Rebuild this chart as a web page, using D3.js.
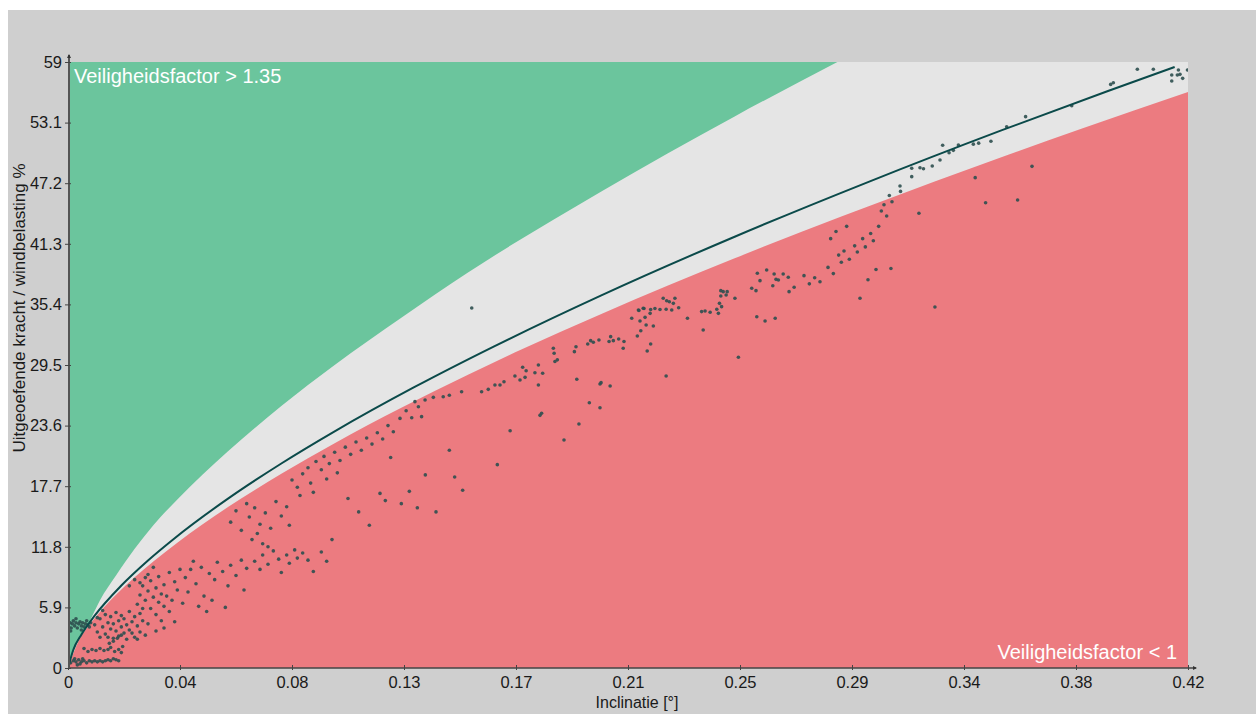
<!DOCTYPE html>
<html>
<head>
<meta charset="utf-8">
<script src="https://cdn.jsdelivr.net/npm/d3@7"></script>
<style>
  body { margin: 0; background: #fff; }
  text { font-family: "Liberation Sans", Arial, sans-serif; }
</style>
</head>
<body>
<svg id="chart" width="1256" height="714"></svg>
<script>
// Axis ticks
const xTicks = [0, 0.042, 0.084, 0.126, 0.168, 0.21, 0.252, 0.294, 0.336, 0.378, 0.42];
const xTickLabels = ["0", "0.04", "0.08", "0.13", "0.17", "0.21", "0.25", "0.29", "0.34", "0.38", "0.42"];
const yTicks = [0, 5.9, 11.8, 17.7, 23.6, 29.5, 35.4, 41.3, 47.2, 53.1, 59];

// Upper boundary (Veiligheidsfactor 1.35)
const greenX = [0, 0.004, 0.008, 0.012, 0.018, 0.025, 0.032, 0.041, 0.06, 0.08, 0.1, 0.125, 0.15, 0.2, 0.25, 0.29, 0.32];
const greenY = [0, 2.8, 4.5, 6.6, 9.0, 11.6, 13.9, 16.4, 21.1, 25.5, 29.5, 34.1, 38.5, 46.4, 53.7, 59.2, 63.2];

// Lower boundary (Veiligheidsfactor 1)
const redX = [0, 0.004, 0.008, 0.012, 0.018, 0.025, 0.032, 0.041, 0.06, 0.08, 0.1, 0.125, 0.15, 0.17, 0.2, 0.25, 0.29, 0.3, 0.35, 0.38, 0.42];
const redY = [0, 2.66, 4.19, 5.46, 7.13, 8.84, 10.37, 12.2, 15.67, 18.91, 21.89, 25.34, 28.54, 31.0, 34.47, 39.89, 43.96, 44.94, 49.72, 52.5, 56.07];

// Fitted curve
const lineX = [0, 0.002, 0.005, 0.01, 0.02, 0.03, 0.04, 0.06, 0.08, 0.1, 0.13, 0.16, 0.2, 0.25, 0.3, 0.35, 0.39, 0.415];
const lineY = [0, 1.78, 3.24, 5.10, 8.03, 10.47, 12.64, 16.49, 19.91, 23.04, 27.36, 31.34, 36.28, 41.99, 47.31, 52.34, 56.18, 58.51];

// Measurements [inclinatie, kracht %]
const dots = [
  [.001,.5],[.002,.7],[.003,.6],[.004,.8],[.005,.6],[.006,.7],[.007,.5],[.008,.7],[.009,.6],[.010,.7],[.011,.6],[.012,.7],[.013,.6],[.014,.7],[.015,.8],[.016,.7],[.017,.9],[.018,.8],[.019,.7],[.0035,.3],[.0045,.4],[.0025,.9],[.0055,.9],
  [.006,1.9],[.0075,1.6],[.009,1.8],[.0105,1.7],[.012,1.9],[.0135,1.7],[.015,1.8],[.016,2.0],[.0175,1.6],[.019,1.8],[.020,1.5],[.0205,2.1],[.0155,2.4],[.017,2.6],[.0185,2.9],
  [.0003,4.0],[.0008,4.4],[.0012,3.9],[.0016,4.3],[.002,4.6],[.0025,4.1],[.003,4.4],[.0035,3.9],[.004,4.3],[.0045,4.5],[.005,4.1],[.0055,4.4],[.006,4.0],[.0065,4.3],[.007,4.6],[.0075,4.2],[.008,4.0],[.0085,4.4],[.001,3.6],[.003,4.8],[.005,3.7],
  [.010,4.2],[.011,3.5],[.012,4.8],[.012,3.0],[.013,4.0],[.014,5.2],[.014,3.3],[.015,4.4],[.016,3.8],[.016,5.0],[.017,2.9],[.017,4.3],[.018,3.6],[.018,5.4],[.019,4.6],[.019,3.1],[.020,4.0],[.020,5.1],[.021,3.4],[.021,4.8],[.022,2.8],[.022,4.2],[.023,5.5],[.023,3.7],[.024,4.5],[.025,3.0],[.025,5.0],[.026,4.1],[.027,3.5],[.027,5.3],[.028,4.6],[.029,3.2],[.030,4.3],[.015,3.0],[.013,5.6],[.011,4.9],[.024,3.4],[.026,2.8],[.028,5.8],[.020,3.2],
  [.026,6.2],[.027,7.1],[.028,8.0],[.029,6.6],[.030,7.5],[.031,5.8],[.031,8.5],[.032,6.9],[.033,7.8],[.033,5.2],[.034,6.4],[.034,8.9],[.035,7.2],[.035,4.6],[.036,6.0],[.036,8.1],[.037,7.0],[.038,5.5],[.038,9.3],[.039,6.6],[.040,8.4],[.041,7.6],[.042,9.6],[.043,6.3],[.044,8.8],[.045,7.4],[.030,9.1],[.032,9.8],[.029,8.8],[.040,4.5],[.036,3.9],[.033,3.6],[.023,8.0],[.025,8.6],[.027,8.3],
  [.046,9.6],[.048,8.2],[.050,9.8],[.051,7.0],[.053,9.2],[.055,8.6],[.056,10.3],[.058,9.4],[.060,8.0],[.061,10.0],[.063,9.0],[.065,10.5],[.066,7.6],[.067,9.7],[.049,6.0],[.052,5.5],[.047,10.4],[.054,6.6],[.059,5.9],
  [.070,10.4],[.072,9.6],[.073,11.0],[.075,10.1],[.077,11.4],[.079,10.6],[.080,9.3],[.082,11.0],[.083,10.2],[.085,11.5],[.086,10.7],[.088,11.2],[.090,10.5],[.092,9.4],[.095,11.3],[.097,10.4],
  [.061,14.2],[.063,15.3],[.065,13.4],[.067,16.0],[.068,14.7],[.070,15.6],[.071,13.1],[.072,14.0],[.074,15.1],[.076,13.6],[.078,16.2],[.080,14.8],[.082,15.7],[.083,13.9],[.069,12.5],[.073,12.1],[.075,11.8],
  [.084,18.3],[.086,17.6],[.088,18.9],[.090,19.5],[.091,18.0],[.093,20.1],[.095,19.3],[.096,20.6],[.098,19.9],[.100,21.0],[.102,20.2],[.104,21.5],[.106,20.8],[.108,22.0],[.110,21.2],[.112,22.4],[.114,21.8],[.116,22.9],[.118,22.3],[.120,23.6],[.122,23.0],[.087,16.8],[.092,17.1],[.097,18.4],[.101,19.0],[.099,12.5],[.105,16.5],[.109,15.2],[.113,13.9],[.117,17.0],[.119,16.3],[.121,20.5],
  [.1245,24.3],[.1268,25.05],[.1289,24.37],[.1301,25.93],[.1314,25.44],[.1326,24.47],[.1339,26.09],[.137,26.35],[.1407,26.41],[.143,26.55],[.1476,26.9],[.1551,26.9],[.1576,27.13],[.1601,27.55],[.162,27.55],[.1635,27.87],[.1658,23.1],[.1676,28.43],[.1695,28.04],[.1705,29.28],[.1714,28.3],[.1718,28.94],[.1751,28.75],[.1764,29.5],[.1764,27.55],[.1776,24.8],[.178,28.69],
  [.1514,35.05],[.138,15.2],[.143,21.2],[.145,18.6],[.148,17.3],[.161,19.8],[.177,24.6],[.186,22.2],[.125,16.0],[.128,17.2],[.131,15.6],[.134,18.8],
  [.182,31.13],[.1823,30.64],[.1826,29.84],[.1835,30.0],[.1899,30.8],[.1905,31.28],[.1908,28.11],[.1916,23.76],[.1949,31.55],[.1955,25.83],[.196,31.87],[.197,31.71],[.1991,31.93],[.1995,27.65],[.1999,27.78],[.1995,25.34],[.2033,27.46],[.2035,32.26],[.2029,31.79],[.2045,31.87],[.2065,32.03],[.2085,31.79],[.2082,31.13],
  [.2114,34.05],[.2135,32.32],[.2139,34.85],[.2145,33.78],[.2148,32.84],[.2164,34.14],[.2168,33.39],[.2172,30.86],[.2185,31.55],[.2183,34.53],[.2195,33.3],[.2157,35.02],[.2141,34.8],[.2160,35.0],[.2185,34.9],[.2201,35.0],[.2220,34.9],
  [.2232,36.0],[.2243,34.93],[.2245,35.76],[.2255,35.66],[.2264,34.85],[.227,35.5],[.2276,36.0],[.229,35.08],[.2243,28.43],[.2323,34.05],[.2376,34.7],[.2382,32.91],[.2389,34.76],[.2408,34.63],[.2433,34.93],[.2439,34.53],[.2443,35.5],[.2451,35.18],[.2448,36.22],[.2457,36.64],[.2468,36.31],[.2472,36.64],[.2448,36.74],[.2501,36.0],[.2514,30.25],
  [.2564,36.97],[.258,36.74],[.2583,34.2],[.2585,38.43],[.2595,37.71],[.2614,33.78],[.262,38.75],[.2643,37.22],[.2648,38.36],[.2655,37.84],[.2664,37.78],[.2652,34.05],[.2682,38.36],[.2701,38.04],[.2704,36.64],[.2723,37.07],
  [.276,38.2],[.278,37.4],[.280,38.0],[.282,37.6],[.285,39.0],[.287,38.4],[.289,40.2],[.290,39.5],[.291,40.6],[.293,39.8],[.295,41.1],[.296,40.5],[.298,41.8],[.299,41.0],[.301,42.3],[.302,41.6],[.304,43.0],[.305,44.5],[.306,45.1],[.307,44.0],[.308,46.0],[.309,45.4],[.286,41.8],[.292,43.0],[.288,42.5],[.297,36.0],[.300,37.8],[.303,38.8],[.3086,38.9],
  [.312,46.93],[.3122,46.4],[.3164,48.65],[.3164,47.84],[.3191,44.27],[.3195,48.7],[.3208,48.6],[.3241,48.87],[.327,49.46],[.328,50.89],[.3304,50.17],[.332,50.4],[.3339,50.92],[.3395,51.0],[.3402,47.74],[.3415,51.1],[.3441,45.3],[.3461,51.28],[.3251,35.15],
  [.352,52.7],[.3561,45.56],[.3591,53.68],[.3615,48.84],[.3764,54.74],[.391,56.82],[.392,56.98],[.401,58.29],[.407,58.29],[.4139,57.73],[.4139,57.15],[.4164,58.22],[.416,57.73],[.417,57.8],[.418,57.41],[.4198,58.22]
];

const W = 1256, H = 714;
const svg = d3.select("#chart");

const x = d3.scaleLinear().domain([0, 0.42]).range([68, 1188]);
const y = d3.scaleLinear().domain([0, 59]).range([668, 62]);

// Background panel
svg.append("rect").attr("x", 8).attr("y", 10).attr("width", W - 8).attr("height", H - 10).attr("fill", "#cfcfcf");

svg.append("clipPath").attr("id", "plotClip")
  .append("rect")
  .attr("x", x(0)).attr("y", y(59))
  .attr("width", x(0.42) - x(0)).attr("height", y(0) - y(59));

const plot = svg.append("g").attr("clip-path", "url(#plotClip)");

plot.append("rect")
  .attr("x", x(0)).attr("y", y(59))
  .attr("width", x(0.42) - x(0)).attr("height", y(0) - y(59))
  .attr("fill", "#e5e5e5");

// Green zone above the upper boundary
const greenData = greenX.map((v, i) => [v, greenY[i]]);
plot.append("path")
  .datum(greenData)
  .attr("fill", "#6bc59d")
  .attr("d", d3.area()
    .x(d => x(d[0]))
    .y0(y(70))
    .y1(d => y(d[1]))
    .curve(d3.curveMonotoneX));

// Red zone below the lower boundary
const redData = redX.map((v, i) => [v, redY[i]]);
plot.append("path")
  .datum(redData)
  .attr("fill", "#ec7b80")
  .attr("d", d3.area()
    .x(d => x(d[0]))
    .y0(y(0))
    .y1(d => y(d[1]))
    .curve(d3.curveMonotoneX));

// Dots
plot.append("g")
  .selectAll("circle")
  .data(dots)
  .join("circle")
  .attr("cx", d => x(d[0]))
  .attr("cy", d => y(d[1]))
  .attr("r", 1.8)
  .attr("fill", "#2e4f4f")
  .attr("opacity", 0.9);

// Fitted line
const lineData = lineX.map((v, i) => [v, lineY[i]]);
plot.append("path")
  .datum(lineData)
  .attr("fill", "none")
  .attr("stroke", "#0b4a4a")
  .attr("stroke-width", 2)
  .attr("d", d3.line()
    .x(d => x(d[0]))
    .y(d => y(d[1]))
    .curve(d3.curveMonotoneX));

// Zone labels
svg.append("text")
  .attr("x", 74).attr("y", 83)
  .attr("fill", "#fff").attr("font-size", 20)
  .text("Veiligheidsfactor > 1.35");
svg.append("text")
  .attr("x", 1177).attr("y", 659)
  .attr("text-anchor", "end")
  .attr("fill", "#fff").attr("font-size", 20)
  .text("Veiligheidsfactor < 1");

// Axes
const xAxis = d3.axisBottom(x)
  .tickValues(xTicks)
  .tickFormat((d, i) => xTickLabels[i])
  .tickSizeInner(-3).tickSizeOuter(0).tickPadding(8);
const gx = svg.append("g").attr("transform", `translate(0,${y(0)})`).call(xAxis);
gx.select(".domain").attr("stroke", "#444").attr("stroke-width", 1.5)
  .attr("d", `M${x(0)},0H${x(0.42) + 8}`);
gx.selectAll(".tick line").attr("stroke", "#444").attr("y1", 2);
gx.selectAll(".tick text").attr("font-size", 16.5).attr("fill", "#1a1a1a")
  .attr("font-family", "'Liberation Sans', Arial, sans-serif");

const yAxis = d3.axisLeft(y)
  .tickValues(yTicks)
  .tickFormat(d => d3.format("")(d))
  .tickSizeInner(3).tickSizeOuter(0).tickPadding(4);
const gy = svg.append("g").attr("transform", `translate(${x(0) + 1},0)`).call(yAxis);
gy.select(".domain").attr("stroke", "#555").attr("stroke-width", 2)
  .attr("d", `M0,${y(0)}V${y(59) - 7}`);
gy.selectAll(".tick line").attr("stroke", "#444").attr("x2", -4).attr("x1", 2);
gy.selectAll(".tick text").attr("font-size", 16.5).attr("fill", "#1a1a1a")
  .attr("font-family", "'Liberation Sans', Arial, sans-serif");

// Axis arrows
svg.append("path")
  .attr("d", `M${x(0) + 1},${y(59) - 8}l-2,4h4z`)
  .attr("fill", "#333");
svg.append("path")
  .attr("d", `M${x(0.42) + 9},${y(0)}l-4,-2v4z`)
  .attr("fill", "#333");

// Axis titles
svg.append("text")
  .attr("transform", `translate(25,308) rotate(-90)`)
  .attr("text-anchor", "middle")
  .attr("font-size", 17).attr("fill", "#1a1a1a")
  .text("Uitgeoefende kracht / windbelasting %");
svg.append("text")
  .attr("x", 637).attr("y", 708)
  .attr("text-anchor", "middle")
  .attr("font-size", 16).attr("fill", "#1a1a1a")
  .text("Inclinatie [°]");
</script>
</body>
</html>
